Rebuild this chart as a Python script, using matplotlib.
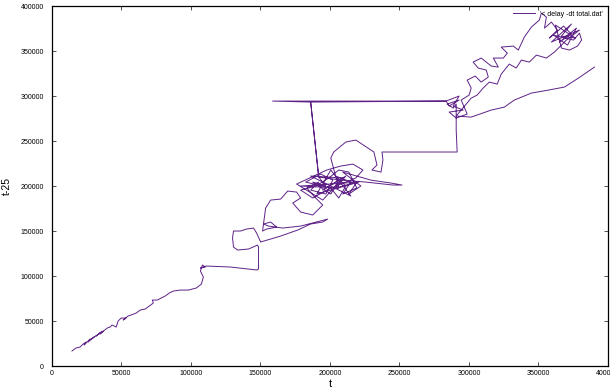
import matplotlib
matplotlib.use('Agg')
import matplotlib.pyplot as plt

# delay embedding: t against t-25, read from total.dat
t_vals = [
    14400, 17300, 20200, 22400, 24500, 23100, 27400, 26000, 30300, 28100,
    32500, 35400, 31700, 36800, 34600, 39700, 41800, 43300, 46200, 47600,
    49800, 53400, 51200, 54800, 57000, 60600, 63500, 67100, 70000, 72900,
    72200, 75800, 78600, 81500, 84400, 87300, 92400, 98100, 103900, 107500,
    108900, 106800, 108200, 110400, 106800, 111100, 128400, 147200, 148600, 148600,
    147900, 141400, 133500, 130600, 129900, 130600, 135600, 140000, 145000, 147200,
    150100, 164500, 176800, 186100, 194800, 198400, 178900, 165900, 155800, 152200,
    157300, 161600, 154400, 151500, 153700, 157300, 164500, 169600, 176000, 178900,
    173200, 178900, 187600, 194800, 188300, 183300, 191900, 186100, 197000, 202000,
    193400, 182500, 200600, 206300, 211400, 204200, 215000, 209200, 219300, 213600,
    206300, 199100, 189800, 178900, 187600, 197700, 207800, 218600, 223700, 216500,
    207800, 197700,
    176000, 194800, 209200, 186100, 215000, 200600, 190500, 220800, 178900, 206300,
    200600, 202700, 211400, 218600, 227300, 231600, 233800, 230200,
    236700, 238100, 237400, 265500, 288600, 291500, 290800, 290800, 288600, 284300,
    292900, 285700, 283500, 158700, 186100, 191900, 197000, 187600, 200600, 206300,
    194800, 211400, 204200, 219300, 213600, 222200, 209200, 229400, 243900, 251800,
    245300, 225800, 207800, 191900, 186100, 283500, 292900, 288600, 295800, 285700,
    290800, 298700, 294400, 300100, 301600, 298700, 304500, 308800, 313900, 312400,
    306600, 303000, 308800, 316000, 321100, 317500, 324700, 327600, 323200, 331900,
    335500, 339800, 344900, 350600, 352100, 355700, 354300, 359300, 363600, 357900,
    368000, 373700, 365100, 377300, 370900, 360800, 375200, 379500, 381000, 378100,
    372300, 366500,
    362200, 376600, 366500, 373700, 359300, 379500, 370100,
    361500, 355700, 348500, 343400, 337700, 334000, 329000, 323200,
    320300, 314600, 310200, 305900, 301600, 290800, 301600, 316000, 325400, 332600,
    344900, 357100, 368700, 378800, 390300,
]
t25_vals = [
    16700, 20000, 21100, 24400, 26700, 23300, 30000, 26700, 32200, 30000,
    34400, 37800, 33300, 38900, 35600, 42200, 43300, 45600, 43300, 50000,
    53300, 53300, 51100, 55600, 56700, 58900, 62200, 63300, 66700, 70000,
    73300, 73300, 75600, 77800, 81100, 83300, 84400, 84400, 86700, 91100,
    98900, 105500, 112200, 110000, 108900, 111100, 110000, 106700, 107800, 132200,
    134400, 130000, 128900, 132200, 142200, 150000, 150000, 152200, 153300, 147800,
    137800, 144400, 151100, 157800, 160000, 163300, 155500, 153300, 155500, 157800,
    160000, 154400, 152200, 150000, 175500, 184400, 185500, 194400, 193300, 186700,
    181100, 171100, 167800, 178900, 188900, 197800, 204400, 195500, 191100, 206600,
    213300, 204400, 197800, 186700, 200000, 211100, 204400, 191100, 197800, 215500,
    217800, 208900, 200000, 195500, 186700, 195500, 202200, 208900, 217800, 224400,
    222200, 217800,
    202200, 184400, 208900, 211100, 188900, 217800, 191100, 204400, 200000, 197800,
    231100, 237800, 248900, 251100, 242200, 237800, 223300, 217800,
    215500, 228900, 237800, 237800, 237800, 237800, 262200, 291100, 286600, 291100,
    295500, 288900, 294400, 294400, 293300, 210000, 200000, 204400, 191100, 206600,
    195500, 211100, 197800, 204400, 191100, 200000, 215500, 206600, 203300, 201100,
    201100, 204400, 206600, 210000, 293300, 294400, 300000, 288900, 284400, 282200,
    275500, 280000, 295500, 301100, 308900, 317700, 322200, 315500, 321100, 328900,
    331100, 337700, 342200, 333300, 332200, 342200, 342200, 347700, 354400, 355500,
    351100, 365500, 376600, 384400, 392200, 387700, 375500, 382200, 373300, 364400,
    377700, 368800, 360000, 375500, 356600, 367700, 362200, 369900, 362200, 355500,
    351100, 353300,
    378900, 364400, 366600, 380000, 360000, 373300, 362200,
    348900, 342200, 345500, 337700, 340000, 331100, 335500, 324400,
    313300, 315500, 308900, 301100, 297700, 277800, 276600, 284400, 287700, 295500,
    303300, 306600, 310000, 320000, 332200,
]
ticks = [0, 50000, 100000, 150000, 200000, 250000, 300000, 350000, 400000]

plt.rcParams['font.family'] = ['Liberation Sans', 'DejaVu Sans']

fig = plt.figure(figsize=(6.1, 3.9), dpi=100)
ax = fig.add_axes([0.0852, 0.0615, 0.9115, 0.923])

ax.plot(t_vals, t25_vals, color='#5e2287', linewidth=0.7,
        label="'< delay -dt total.dat'")

ax.set_xlim(0, 400000)
ax.set_ylim(0, 400000)
ax.set_xticks(ticks)
ax.set_yticks(ticks)
ax.tick_params(direction='in', length=3, width=0.6, labelsize=5,
               top=True, right=True, color='#333333')
ax.tick_params(axis='y', pad=6)
ax.tick_params(axis='x', pad=3)
for sp in ax.spines.values():
    sp.set_linewidth(0.9)

ax.set_xlabel('t', fontsize=8, labelpad=1)
ax.set_ylabel('t-25', fontsize=7.5, labelpad=6)

ax.legend(loc='upper right', frameon=False, fontsize=5,
          handlelength=3.2, handletextpad=0.8, borderaxespad=0.3)

fig.savefig('out.png', dpi=100)
